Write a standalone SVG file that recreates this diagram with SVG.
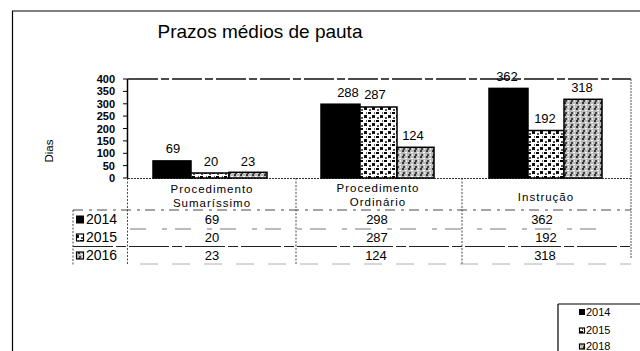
<svg xmlns="http://www.w3.org/2000/svg" width="640" height="351" viewBox="0 0 640 351">
<style>
text{font-family:"Liberation Sans",Arial,sans-serif;fill:#000}
.title{font-size:19px}
.ytick{font-size:11px;font-weight:bold;text-anchor:end}
.val{font-size:13px;text-anchor:middle}
.cat{font-size:11.5px;letter-spacing:1px;text-anchor:middle}
.tv{font-size:13px;text-anchor:middle}
.rl{font-size:14px}
.lg{font-size:11px}
.frame{fill:none;stroke:#000;stroke-width:1.2}
.grid{fill:none;stroke:#333;stroke-width:0.9;stroke-dasharray:2 1.5}
.bar{stroke:#000;stroke-width:1.5}
</style>
<defs>
<pattern id="p15" width="8" height="8" patternUnits="userSpaceOnUse">
<rect width="8" height="8" fill="#fff"/>
<rect x="0" y="0" width="3" height="2" fill="#000"/>
<rect x="4" y="3" width="3" height="3" fill="#111"/>
<rect x="1" y="5" width="2" height="2" fill="#555"/>
<rect x="6" y="0" width="1" height="2" fill="#666"/>
</pattern>
<pattern id="p16" width="6" height="6" patternUnits="userSpaceOnUse">
<rect width="6" height="6" fill="#bbb"/>
<rect x="0" y="0" width="2" height="2" fill="#333"/>
<rect x="3" y="2" width="2" height="1" fill="#fff"/>
<rect x="1" y="4" width="2" height="2" fill="#444"/>
<rect x="4" y="4" width="1" height="2" fill="#eee"/>
</pattern>
</defs>

<g id="frame">
<path class="frame" d="M12,11 H640 M12.5,11 V351"/>
</g>

<g id="title"><text class="title" x="260" y="38" text-anchor="middle">Prazos médios de pauta</text></g>

<g id="axis">
<text x="53" y="151" font-size="11.5" text-anchor="middle" transform="rotate(-90 53 151)">Dias</text>
<path fill="none" stroke="#000" stroke-width="1.5" d="M127.5,79 V178"/>
<path fill="none" stroke="#000" stroke-width="1" d="M123,79 H128 M123,91.4 H128 M123,103.8 H128 M123,116.1 H128 M123,128.5 H128 M123,140.9 H128 M123,153.3 H128 M123,165.6 H128 M123,178 H128"/>
<text class="ytick" x="115" y="83">400</text>
<text class="ytick" x="115" y="95.4">350</text>
<text class="ytick" x="115" y="107.8">300</text>
<text class="ytick" x="115" y="120.1">250</text>
<text class="ytick" x="115" y="132.5">200</text>
<text class="ytick" x="115" y="144.9">150</text>
<text class="ytick" x="115" y="157.3">100</text>
<text class="ytick" x="115" y="169.6">50</text>
<text class="ytick" x="115" y="182">0</text>
<path fill="none" stroke="#111" stroke-width="1.3" stroke-dasharray="30 3 8 3" d="M128,79 H631"/>
<path fill="none" stroke="#555" stroke-width="1" stroke-dasharray="2 1" d="M631,79 V258"/>
<path fill="none" stroke="#333" stroke-width="1" stroke-dasharray="2 1" d="M128,178.5 H631"/>
</g>

<g id="bars2014">
<rect class="bar" x="153" y="160.9" width="38" height="17.1" fill="#000"/>
<rect class="bar" x="321" y="104.2" width="39" height="73.8" fill="#000"/>
<rect class="bar" x="489" y="88.4" width="39" height="89.6" fill="#000"/>
</g>
<g id="bars2015">
<rect class="bar" x="191" y="173" width="38" height="5" fill="url(#p15)"/>
<rect class="bar" x="360" y="107" width="37" height="71" fill="url(#p15)"/>
<rect class="bar" x="528" y="130.5" width="36" height="47.5" fill="url(#p15)"/>
</g>
<g id="bars2016">
<rect class="bar" x="229" y="172.3" width="38" height="5.7" fill="url(#p16)"/>
<rect class="bar" x="397" y="147.3" width="37" height="30.7" fill="url(#p16)"/>
<rect class="bar" x="564" y="99.3" width="38" height="78.7" fill="url(#p16)"/>
</g>

<g id="values">
<text class="val" x="173" y="153">69</text>
<text class="val" x="211" y="166">20</text>
<text class="val" x="248" y="166">23</text>
<text class="val" x="348" y="97">288</text>
<text class="val" x="375" y="99">287</text>
<text class="val" x="413" y="140">124</text>
<text class="val" x="507" y="81">362</text>
<text class="val" x="545" y="123">192</text>
<text class="val" x="582" y="92">318</text>
</g>

<g id="table">
<path class="grid" d="M127.5,178 V265 M296,178 V265 M462,178 V265 M73,210 V265"/>
<path fill="none" stroke="#333" stroke-width="0.9" stroke-dasharray="10 6 3 5" d="M73,210 H631"/>
<path fill="none" stroke="#555" stroke-width="0.8" stroke-dasharray="16 16 5 8" d="M130,229 H600"/>
<path fill="none" stroke="#222" stroke-width="1" stroke-dasharray="40 3 10 3" d="M73,246.5 H631"/>
<path fill="none" stroke="#999" stroke-width="0.8" stroke-dasharray="18 14" d="M140,264 H631"/>
<text class="cat" x="212" y="193">Procedimento</text>
<text class="cat" x="212" y="207">Sumaríssimo</text>
<text class="cat" x="378" y="192">Procedimento</text>
<text class="cat" x="378" y="206">Ordinário</text>
<text class="cat" x="546" y="201">Instrução</text>
<rect x="76" y="215.5" width="8" height="8" fill="#000"/>
<text class="rl" x="86" y="224">2014</text>
<rect x="76.5" y="234" width="7" height="7" fill="url(#p15)" stroke="#000" stroke-width="1.2"/>
<text class="rl" x="86" y="242">2015</text>
<rect x="76.5" y="252" width="7" height="7" fill="url(#p16)" stroke="#000" stroke-width="1.2"/>
<text class="rl" x="86" y="260">2016</text>
<text class="tv" x="212" y="224">69</text>
<text class="tv" x="212" y="242">20</text>
<text class="tv" x="212" y="260">23</text>
<text class="tv" x="377" y="224">298</text>
<text class="tv" x="377" y="242">287</text>
<text class="tv" x="376" y="260">124</text>
<text class="tv" x="542" y="224">362</text>
<text class="tv" x="546" y="242">192</text>
<text class="tv" x="545" y="260">318</text>
</g>

<g id="legend">
<path class="frame" d="M558,304 H640 M558,304 V351"/>
<rect x="579" y="309" width="6" height="6" fill="#000"/>
<text class="lg" x="586" y="316">2014</text>
<rect x="579.5" y="328" width="5" height="5" fill="url(#p15)" stroke="#000" stroke-width="1.2"/>
<text class="lg" x="586" y="334">2015</text>
<rect x="579.5" y="344" width="5" height="5" fill="url(#p16)" stroke="#000" stroke-width="1.2"/>
<text class="lg" x="586" y="350">2018</text>
</g>
</svg>
